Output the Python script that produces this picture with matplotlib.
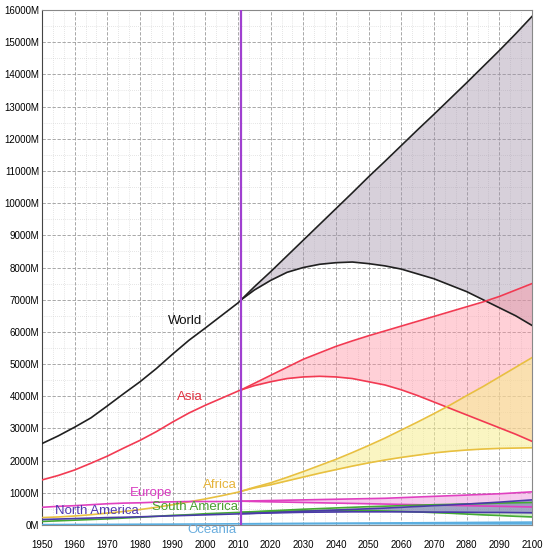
import numpy as np
from matplotlib import pyplot as plt
from matplotlib.ticker import MultipleLocator, FuncFormatter

plt.close("all")

# years: history up to the split, then projections (high / low variants)
hist_years = [1950, 1955, 1960, 1965, 1970, 1975, 1980, 1985, 1990, 1995, 2000, 2005, 2010, 2011]
proj_years = [2011, 2015, 2020, 2025, 2030, 2035, 2040, 2045, 2050, 2055,
              2060, 2065, 2070, 2075, 2080, 2085, 2090, 2095, 2100]

# population in millions
world_hist = [2530, 2770, 3040, 3330, 3700, 4080, 4450, 4860, 5310, 5740, 6120, 6510, 6900, 7000]
world_high = [7000, 7400, 7870, 8360, 8850, 9340, 9830, 10320, 10820, 11300,
              11790, 12280, 12760, 13250, 13740, 14240, 14740, 15260, 15800]
world_low = [7000, 7300, 7600, 7850, 8000, 8100, 8150, 8170, 8120, 8050,
             7950, 7800, 7650, 7450, 7250, 7000, 6750, 6500, 6200]

asia_hist = [1400, 1540, 1710, 1920, 2140, 2390, 2630, 2900, 3200, 3480, 3720, 3940, 4160, 4200]
asia_high = [4200, 4400, 4650, 4900, 5150, 5350, 5550, 5720, 5880, 6030,
             6180, 6330, 6480, 6630, 6780, 6930, 7100, 7300, 7500]
asia_low = [4200, 4330, 4450, 4550, 4600, 4620, 4600, 4550, 4450, 4350,
            4200, 4020, 3820, 3620, 3420, 3220, 3020, 2820, 2600]

africa_hist = [230, 250, 280, 320, 370, 420, 480, 550, 630, 720, 810, 910, 1020, 1050]
africa_high = [1050, 1170, 1310, 1480, 1660, 1850, 2040, 2250, 2470, 2700,
               2950, 3200, 3460, 3730, 4020, 4300, 4600, 4900, 5200]
africa_low = [1050, 1150, 1250, 1370, 1490, 1610, 1720, 1830, 1930, 2020,
              2100, 2170, 2240, 2290, 2330, 2360, 2380, 2390, 2400]

europe_hist = [550, 580, 600, 630, 660, 680, 690, 710, 720, 730, 730, 730, 740, 740]
europe_high = [740, 750, 760, 770, 780, 790, 800, 810, 820, 830,
               850, 870, 890, 910, 930, 950, 970, 1000, 1030]
europe_low = [740, 730, 720, 710, 700, 690, 680, 670, 660, 650,
              640, 630, 620, 610, 600, 590, 580, 570, 560]

namerica_hist = [170, 185, 200, 215, 230, 240, 255, 270, 285, 300, 315, 330, 345, 350]
namerica_high = [350, 365, 385, 405, 425, 445, 465, 485, 505, 525,
                 550, 575, 600, 625, 650, 680, 710, 745, 780]
namerica_low = [350, 360, 375, 385, 395, 400, 405, 410, 410, 410,
                410, 405, 400, 400, 395, 390, 390, 385, 380]

samerica_hist = [110, 130, 150, 170, 190, 215, 240, 270, 300, 320, 350, 370, 390, 395]
samerica_high = [395, 415, 440, 465, 490, 510, 530, 550, 570, 585,
                 600, 615, 630, 640, 655, 665, 680, 690, 700]
samerica_low = [395, 405, 420, 430, 440, 445, 450, 450, 445, 435,
                420, 405, 385, 365, 340, 315, 295, 270, 250]

oceania_hist = [13, 14, 16, 18, 19, 21, 23, 25, 27, 29, 31, 34, 37, 37]
oceania_high = [37, 39, 42, 45, 48, 51, 54, 57, 60, 63,
                66, 69, 72, 75, 78, 81, 84, 87, 90]
oceania_low = [37, 38, 40, 41, 42, 42, 43, 43, 42, 42,
               41, 40, 40, 39, 38, 37, 36, 36, 35]

split_year = 2011
y_ticks = list(range(0, 16001, 1000))

series = [
    # name, hist, high, low, line colour, fill colour, fill alpha
    ("World", world_hist, world_high, world_low, "#202020", "#a090a8", 0.42),
    ("Asia", asia_hist, asia_high, asia_low, "#f23a52", "#ff8fa0", 0.42),
    ("Africa", africa_hist, africa_high, africa_low, "#e8c040", "#f6ee90", 0.55),
    ("Europe", europe_hist, europe_high, europe_low, "#e040c0", "#f0a0e0", 0.55),
    ("South America", samerica_hist, samerica_high, samerica_low, "#44aa33", "#90d080", 0.45),
    ("North America", namerica_hist, namerica_high, namerica_low, "#4a3aa8", "#8070c8", 0.55),
    ("Oceania", oceania_hist, oceania_high, oceania_low, "#5aaee0", "#a0d0f0", 0.5),
]

fig = plt.figure(figsize=(5.45, 5.52), dpi=100)
ax = fig.add_axes([42 / 545, 27 / 552, 490 / 545, 515 / 552])

for name, hist, high, low, lc, fc, fa in series:
    ax.fill_between(proj_years, low, high, color=fc, alpha=fa, lw=0, zorder=2)
    ax.plot(hist_years, hist, color=lc, lw=1.2, zorder=3)
    ax.plot(proj_years, high, color=lc, lw=1.2, zorder=3)
    ax.plot(proj_years, low, color=lc, lw=1.2, zorder=3)

ax.axvline(split_year, color="#a040d0", lw=1.6, zorder=4)

# series labels
lab = dict(fontsize=9.5, family=["Liberation Sans", "DejaVu Sans"], ha="center", va="center", zorder=5)
ax.text(1993.7, 6350, "World", color="#111111", **lab)
ax.text(1995.3, 3990, "Asia", color="#e0303f", **lab)
ax.text(2004.4, 1250, "Africa", color="#e6b43a", **lab)
ax.text(1983.5, 1000, "Europe", color="#d83cc0", **lab)
ax.text(1996.8, 560, "South America", color="#4aa030", **lab)
ax.text(1966.8, 430, "North America", color="#5038b0", **lab)
ax.text(2002.0, -170, "Oceania", color="#6aaede", clip_on=False, **lab)

ax.set_xlim(1950, 2100)
ax.set_ylim(0, 16000)
ax.xaxis.set_major_locator(MultipleLocator(10))
ax.xaxis.set_minor_locator(MultipleLocator(10 / 3))
ax.set_yticks(y_ticks)
ax.yaxis.set_minor_locator(MultipleLocator(500))
ax.yaxis.set_major_formatter(FuncFormatter(lambda v, p: "%dM" % v))

ax.grid(which="major", color="#9a9a9a", lw=0.6, ls=(0, (4, 2)), zorder=1)
ax.grid(which="minor", color="#cccccc", lw=0.5, ls=(0, (1, 2)), zorder=1)
ax.set_axisbelow(True)

for t in ax.get_xticklabels() + ax.get_yticklabels():
    t.set_family(["Liberation Sans", "DejaVu Sans"])
    t.set_fontsize(7)
ax.tick_params(which="both", length=0, pad=2)
ax.tick_params(axis="x", pad=11)

for s in ax.spines.values():
    s.set_color("#888888")
    s.set_linewidth(0.8)
ax.spines["left"].set_color("#444444")

fig.savefig("out.png", dpi=100)
